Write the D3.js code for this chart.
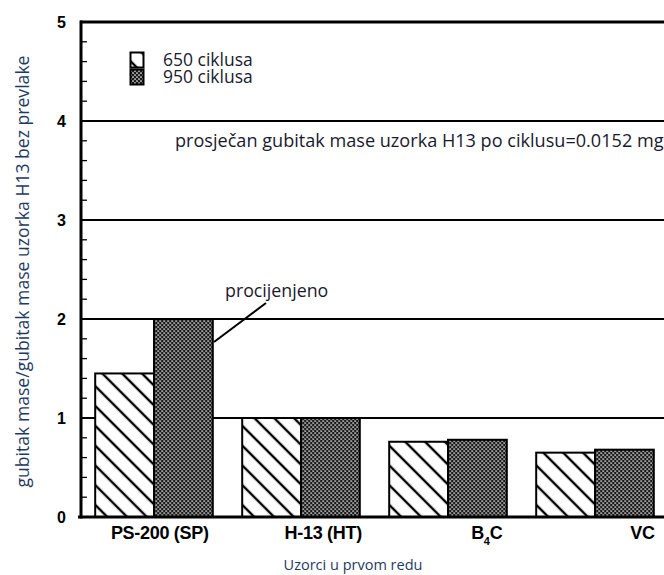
<!DOCTYPE html>
<html>
<head>
<meta charset="utf-8">
<script src="https://cdn.jsdelivr.net/npm/d3@7"></script>
<style>
  html, body { margin: 0; padding: 0; background: #fff; }
  svg { display: block; }
</style>
</head>
<body>
<svg id="chart" width="664" height="575"></svg>
<script>
const categories = ["PS-200 (SP)", "H-13 (HT)", "B4C", "VC"];
const seriesNames = ["650 ciklusa", "950 ciklusa"];
const values650 = [1.45, 1.0, 0.76, 0.65];
const values950 = [2.0, 1.0, 0.78, 0.68];
const yTickValues = [0, 1, 2, 3, 4, 5];
const yTitle = "gubitak mase/gubitak mase uzorka H13 bez prevlake";
const xTitle = "Uzorci u prvom redu";
const noteText = "prosječan gubitak mase uzorka H13 po ciklusu=0.0152 mg";
const estText = "procijenjeno";

const svg = d3.select("#chart");
const x0 = 81, yTop = 22, yBot = 517, W = 664;
const textFont = "Open Sans, sans-serif";
const textColor = "#1a1a2e";

const y = d3.scaleLinear().domain([0, 5]).range([yBot, yTop]);
const x = d3.scaleBand().domain(categories).range([80.5, 668.5]).paddingInner(0.2).paddingOuter(0.1);
const xs = d3.scaleBand().domain(seriesNames).range([0, x.bandwidth()]);
// the category labels of the original figure sit on a wider spacing than the bars
const xLab = d3.scaleBand().domain(categories).range([78, 732]);

const defs = svg.append("defs");
const hatch = defs.append("pattern").attr("id", "hatch").attr("patternUnits", "userSpaceOnUse")
  .attr("width", 14).attr("height", 14).attr("patternTransform", "rotate(-45)");
hatch.append("rect").attr("width", 14).attr("height", 14).attr("fill", "#fff");
hatch.append("line").attr("x1", 7).attr("x2", 7).attr("y1", 0).attr("y2", 14)
  .attr("stroke", "#000").attr("stroke-width", 2.4);

const dots = defs.append("pattern").attr("id", "dots").attr("patternUnits", "userSpaceOnUse")
  .attr("width", 4).attr("height", 4);
dots.append("rect").attr("width", 4).attr("height", 4).attr("fill", "#1a1a1a");
dots.append("circle").attr("cx", 1).attr("cy", 1).attr("r", 0.85).attr("fill", "#fff");
dots.append("circle").attr("cx", 3).attr("cy", 3).attr("r", 0.85).attr("fill", "#fff");

const fills = {"650 ciklusa": "url(#hatch)", "950 ciklusa": "url(#dots)"};

// gridlines
svg.append("g").selectAll("line").data([1, 2, 3, 4]).join("line")
  .attr("x1", x0).attr("x2", W).attr("y1", d => y(d)).attr("y2", d => y(d))
  .attr("stroke", "#000").attr("stroke-width", 1.8);
// top line
svg.append("line").attr("x1", x0 - 1).attr("x2", W).attr("y1", y(5)).attr("y2", y(5))
  .attr("stroke", "#000").attr("stroke-width", 2.8);

// bars
const rows = categories.map((c, i) => ({cat: c, vals: [
  {s: seriesNames[0], v: values650[i]}, {s: seriesNames[1], v: values950[i]}]}));
const g = svg.append("g").selectAll("g").data(rows).join("g")
  .attr("transform", d => `translate(${x(d.cat)},0)`);
g.selectAll("rect").data(d => d.vals).join("rect")
  .attr("x", d => xs(d.s)).attr("width", xs.bandwidth())
  .attr("y", d => y(d.v)).attr("height", d => y(0) - y(d.v))
  .attr("fill", d => fills[d.s]).attr("stroke", "#000").attr("stroke-width", 2);

// minor ticks
svg.append("g").selectAll("line").data(d3.range(0, 5.001, 0.2)).join("line")
  .attr("x1", x0).attr("x2", x0 + 6).attr("y1", d => y(d)).attr("y2", d => y(d))
  .attr("stroke", "#000").attr("stroke-width", 1.3);

// axes lines
svg.append("line").attr("x1", x0).attr("x2", x0).attr("y1", yTop - 1.4).attr("y2", yBot + 1.5)
  .attr("stroke", "#000").attr("stroke-width", 3);
svg.append("line").attr("x1", x0 - 3).attr("x2", W).attr("y1", yBot).attr("y2", yBot)
  .attr("stroke", "#000").attr("stroke-width", 3);

// y axis labels
const yAxis = svg.append("g").attr("transform", `translate(${x0 - 15},0)`)
  .call(d3.axisLeft(y).tickValues(yTickValues).tickSize(0).tickPadding(0).tickFormat(d3.format("d")));
yAxis.select(".domain").remove();
yAxis.selectAll("text").attr("font-family", "Liberation Sans, Arial, sans-serif")
  .attr("font-weight", "bold").attr("font-size", 16).attr("fill", "#000");

// x axis labels
const xAxis = svg.append("g").attr("transform", `translate(0,${yBot + 7})`)
  .call(d3.axisBottom(xLab).tickSize(0).tickPadding(0));
xAxis.select(".domain").remove();
xAxis.selectAll("text").attr("font-family", "Liberation Sans, Arial, sans-serif")
  .attr("font-weight", "bold").attr("font-size", 18).attr("fill", "#000")
  .attr("letter-spacing", -0.3).attr("dy", "0.82em")
  .each(function(d) {
    if (d === "B4C") {
      const t = d3.select(this).text(null);
      t.append("tspan").text("B");
      t.append("tspan").text("4").attr("font-size", 11).attr("dy", 6);
      t.append("tspan").text("C").attr("dy", -6);
    }
  });
// keep labels inside the picture
xAxis.selectAll(".tick").each(function(d) {
  const t = d3.select(this);
  const bb = this.getBBox();
  const cx = xLab(d) + xLab.bandwidth() / 2;
  const right = cx + bb.x + bb.width;
  if (right > W - 9) t.attr("transform", `translate(${cx - (right - (W - 9))},0)`);
});

// titles
svg.append("text").attr("transform", `translate(29,${(yTop + yBot) / 2 + 2}) rotate(-90)`)
  .attr("text-anchor", "middle").attr("font-family", textFont).attr("font-size", 17.6)
  .attr("fill", "#1f3a5f").text(yTitle);
svg.append("text").attr("x", 353).attr("y", 570).attr("text-anchor", "middle")
  .attr("font-family", textFont).attr("font-size", 14.5)
  .attr("fill", "#1f3a5f").text(xTitle);

// legend
const leg = svg.append("g");
seriesNames.forEach((s, i) => {
  leg.append("rect").attr("x", 130.5).attr("y", 52.5 + i * 17).attr("width", 13).attr("height", 15)
    .attr("fill", fills[s]).attr("stroke", "#000").attr("stroke-width", 2);
  leg.append("text").attr("x", 163).attr("y", 66 + i * 17)
    .attr("font-family", textFont).attr("font-size", 17.5)
    .attr("fill", textColor).text(s);
});

// note
svg.append("text").attr("x", 175).attr("y", 147)
  .attr("font-family", textFont).attr("font-size", 18.1)
  .attr("fill", textColor).text(noteText);

// estimated annotation
svg.append("text").attr("x", 225).attr("y", 297)
  .attr("font-family", textFont).attr("font-size", 17.8)
  .attr("fill", textColor).text(estText);
svg.append("line").attr("x1", 266).attr("y1", 303).attr("x2", 214).attr("y2", 342)
  .attr("stroke", "#000").attr("stroke-width", 2);
</script>
</body>
</html>
